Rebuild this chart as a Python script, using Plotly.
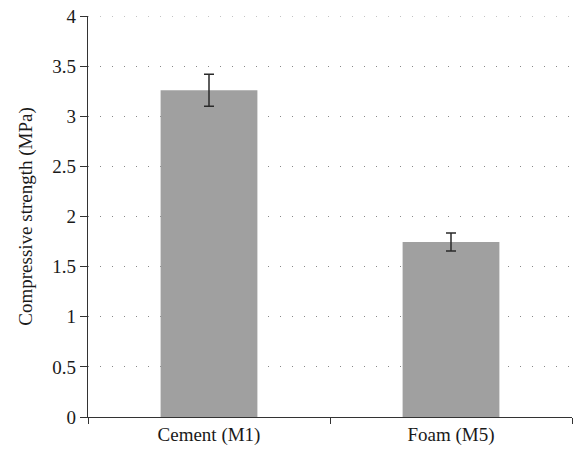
import plotly.graph_objects as go

categories = ["Cement (M1)", "Foam (M5)"]
strength = [3.26, 1.745]
error = [0.16, 0.09]
y_ticks = [0, 0.5, 1, 1.5, 2, 2.5, 3, 3.5, 4]
y_tick_labels = ["0", "0.5", "1", "1.5", "2", "2.5", "3", "3.5", "4"]

font_family = "Liberation Serif, DejaVu Serif, serif"
grid_dash = "1px,11px"

fig = go.Figure()
fig.add_trace(go.Bar(
    x=categories, y=strength,
    marker=dict(color="#a0a0a0", line=dict(width=0)),
    width=0.4,
    error_y=dict(type="data", array=error, visible=True,
                 color="#2a2a2a", thickness=1.5, width=5),
))

# top grid line at y=4 (Plotly omits gridline at the range edge)
fig.add_shape(type="line", xref="paper", yref="y", x0=0, x1=1, y0=4, y1=4,
              line=dict(color="#888", width=1, dash=grid_dash), layer="below")

fig.update_layout(
    width=578, height=455,
    margin=dict(l=88, r=6, t=16, b=38),
    paper_bgcolor="white", plot_bgcolor="white",
    font=dict(family=font_family, size=19, color="#1a1a1a"),
    showlegend=False,
    xaxis=dict(
        showline=True, linecolor="#333", linewidth=1.2,
        ticks="outside", tickson="boundaries", ticklen=6, tickcolor="#333",
        showgrid=False, tickfont=dict(size=19),
    ),
    yaxis=dict(
        range=[0, 4], tickvals=y_ticks, ticktext=y_tick_labels,
        showline=True, linecolor="#333", linewidth=1.2,
        ticks="outside", ticklen=7, tickcolor="#333",
        showgrid=True, gridcolor="#888", griddash=grid_dash, gridwidth=1,
        zeroline=False,
        title=dict(text="Compressive strength (MPa)", font=dict(size=19), standoff=14),
        tickfont=dict(size=19),
    ),
)

fig.write_html("out.html")
